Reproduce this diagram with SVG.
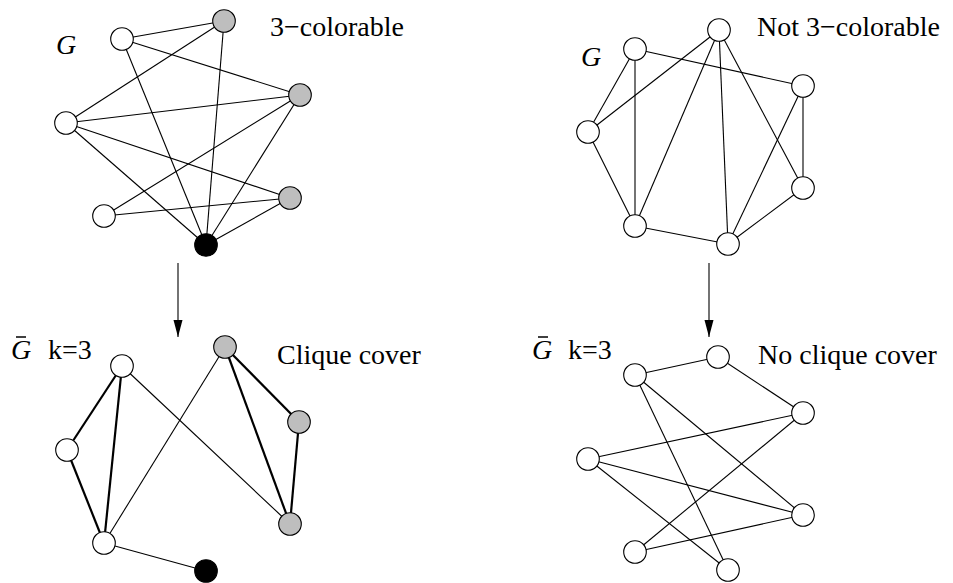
<svg xmlns="http://www.w3.org/2000/svg" width="953" height="583" viewBox="0 0 953 583">
<style>
.e{stroke:#000;stroke-width:1.1;fill:none}
.t{stroke:#000;stroke-width:2.2;fill:none}
.n{stroke:#000;stroke-width:1.1;fill:#fff}
.g{fill:#bebebe}
.b{fill:#000}
text{font-family:"Liberation Serif","Times New Roman",serif;font-size:28px;fill:#000}
.i{font-style:italic}
.bar{stroke:#000;stroke-width:1.5}
</style>
<defs>
<marker id="ah" markerWidth="17" markerHeight="10" refX="17" refY="5" orient="auto" markerUnits="userSpaceOnUse" viewBox="0 0 17 10">
<path d="M0,0.5 L17,5 L0,9.5 Z" fill="#000"/>
</marker>
</defs>
<rect width="953" height="583" fill="#fff"/>
<g id="connectors">
<line class="e" x1="122" y1="39" x2="224" y2="21"/>
<line class="e" x1="122" y1="39" x2="300" y2="95"/>
<line class="e" x1="122" y1="39" x2="206" y2="245"/>
<line class="e" x1="224" y1="21" x2="66" y2="123"/>
<line class="e" x1="224" y1="21" x2="206" y2="245"/>
<line class="e" x1="66" y1="123" x2="300" y2="95"/>
<line class="e" x1="66" y1="123" x2="290" y2="198"/>
<line class="e" x1="66" y1="123" x2="206" y2="245"/>
<line class="e" x1="104" y1="216" x2="300" y2="95"/>
<line class="e" x1="104" y1="216" x2="290" y2="198"/>
<line class="e" x1="290" y1="198" x2="206" y2="245"/>
<line class="e" x1="300" y1="95" x2="206" y2="245"/>
<line class="e" x1="635" y1="49" x2="803" y2="86"/>
<line class="e" x1="635" y1="49" x2="588" y2="132"/>
<line class="e" x1="635" y1="49" x2="635" y2="226"/>
<line class="e" x1="719" y1="30" x2="588" y2="132"/>
<line class="e" x1="719" y1="30" x2="635" y2="226"/>
<line class="e" x1="719" y1="30" x2="728" y2="244"/>
<line class="e" x1="719" y1="30" x2="803" y2="188"/>
<line class="e" x1="803" y1="86" x2="803" y2="188"/>
<line class="e" x1="803" y1="86" x2="728" y2="244"/>
<line class="e" x1="588" y1="132" x2="635" y2="226"/>
<line class="e" x1="635" y1="226" x2="728" y2="244"/>
<line class="e" x1="803" y1="188" x2="728" y2="244"/>
<line class="t" x1="122" y1="366" x2="67" y2="450"/>
<line class="t" x1="122" y1="366" x2="104" y2="543"/>
<line class="t" x1="67" y1="450" x2="104" y2="543"/>
<line class="e" x1="122" y1="366" x2="290" y2="524"/>
<line class="e" x1="225" y1="347" x2="104" y2="543"/>
<line class="t" x1="225" y1="347" x2="299" y2="422"/>
<line class="t" x1="225" y1="347" x2="290" y2="524"/>
<line class="t" x1="299" y1="422" x2="290" y2="524"/>
<line class="e" x1="104" y1="543" x2="206" y2="571"/>
<line class="e" x1="635" y1="375" x2="718" y2="357"/>
<line class="e" x1="718" y1="357" x2="803" y2="413"/>
<line class="e" x1="635" y1="375" x2="728" y2="570"/>
<line class="e" x1="635" y1="375" x2="803" y2="515"/>
<line class="e" x1="588" y1="459" x2="803" y2="413"/>
<line class="e" x1="588" y1="459" x2="803" y2="515"/>
<line class="e" x1="588" y1="459" x2="728" y2="570"/>
<line class="e" x1="635" y1="552" x2="803" y2="413"/>
<line class="e" x1="635" y1="552" x2="803" y2="515"/>
<line class="e" x1="178" y1="263" x2="178" y2="337" marker-end="url(#ah)"/>
<line class="e" x1="709" y1="263" x2="709" y2="337" marker-end="url(#ah)"/>
</g>
<g id="tl-nodes">
<circle id="tlA" class="n" cx="122" cy="39" r="11.3"/>
<circle id="tlB" class="n g" cx="224" cy="21" r="11.3"/>
<circle id="tlC" class="n g" cx="300" cy="95" r="11.3"/>
<circle id="tlD" class="n" cx="66" cy="123" r="11.3"/>
<circle id="tlE" class="n g" cx="290" cy="198" r="11.3"/>
<circle id="tlF" class="n" cx="104" cy="216" r="11.3"/>
<circle id="tlH" class="n b" cx="206" cy="245" r="11.3"/>
</g>
<g id="tr-nodes">
<circle id="trP1" class="n" cx="719" cy="30" r="11.3"/>
<circle id="trP2" class="n" cx="635" cy="49" r="11.3"/>
<circle id="trP3" class="n" cx="803" cy="86" r="11.3"/>
<circle id="trP4" class="n" cx="588" cy="132" r="11.3"/>
<circle id="trP5" class="n" cx="803" cy="188" r="11.3"/>
<circle id="trP6" class="n" cx="635" cy="226" r="11.3"/>
<circle id="trP7" class="n" cx="728" cy="244" r="11.3"/>
</g>
<g id="bl-nodes">
<circle id="blQ1" class="n" cx="122" cy="366" r="11.3"/>
<circle id="blQ2" class="n g" cx="225" cy="347" r="11.3"/>
<circle id="blQ3" class="n g" cx="299" cy="422" r="11.3"/>
<circle id="blQ4" class="n" cx="67" cy="450" r="11.3"/>
<circle id="blQ5" class="n g" cx="290" cy="524" r="11.3"/>
<circle id="blQ6" class="n" cx="104" cy="543" r="11.3"/>
<circle id="blQ7" class="n b" cx="206" cy="571" r="11.3"/>
</g>
<g id="br-nodes">
<circle id="brR1" class="n" cx="718" cy="357" r="11.3"/>
<circle id="brR2" class="n" cx="635" cy="375" r="11.3"/>
<circle id="brR3" class="n" cx="803" cy="413" r="11.3"/>
<circle id="brR4" class="n" cx="588" cy="459" r="11.3"/>
<circle id="brR5" class="n" cx="803" cy="515" r="11.3"/>
<circle id="brR6" class="n" cx="635" cy="552" r="11.3"/>
<circle id="brR7" class="n" cx="728" cy="570" r="11.3"/>
</g>
<g id="labels">
<text class="i" x="56" y="54">G</text>
<text x="270" y="36">3−colorable</text>
<text class="i" x="581" y="66">G</text>
<text x="757" y="36">Not 3−colorable</text>
<text class="i" x="11" y="359">G</text>
<line class="bar" x1="16" y1="337" x2="26" y2="337"/>
<text x="48" y="359">k=3</text>
<text x="277" y="364">Clique cover</text>
<text class="i" x="532" y="359">G</text>
<line class="bar" x1="538" y1="337" x2="548" y2="337"/>
<text x="568" y="359">k=3</text>
<text x="758" y="364">No clique cover</text>
</g>
</svg>
